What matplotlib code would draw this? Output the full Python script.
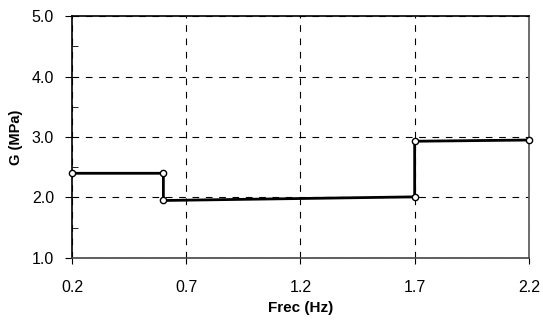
import matplotlib
matplotlib.use("Agg")
import matplotlib.pyplot as plt
from matplotlib.ticker import MultipleLocator

plt.rcParams['font.family'] = ['Liberation Sans', 'DejaVu Sans']

freq = [0.2, 0.6, 0.6, 1.7, 1.7, 2.2]
g_mpa = [2.40, 2.40, 1.95, 2.01, 2.93, 2.95]
x_ticks = [0.2, 0.7, 1.2, 1.7, 2.2]
y_ticks = [1.0, 2.0, 3.0, 4.0, 5.0]

fig = plt.figure(figsize=(5.43, 3.22), dpi=100)
ax = fig.add_axes([0.1326, 0.199, 0.8414, 0.751])

ax.plot(freq, g_mpa, color='black', lw=2.0, marker='o', markersize=4.5,
        markerfacecolor='white', markeredgecolor='black', markeredgewidth=1.0,
        zorder=5, clip_on=False)

ax.set_xlim(0.2, 2.2)
ax.set_ylim(1.0, 5.0)
ax.set_xticks(x_ticks)
ax.set_yticks(y_ticks)
ax.set_xticklabels([f"{v:.1f}" for v in x_ticks])
ax.set_yticklabels([f"{v:.1f}" for v in y_ticks])
ax.yaxis.set_minor_locator(MultipleLocator(0.5))

ax.grid(True, which='major', linestyle=(0, (6, 6)), color='black', lw=0.8)

for side in ['top', 'bottom', 'left', 'right']:
    ax.spines[side].set_linewidth(1.2)
ax.spines['right'].set_color('#555555')
ax.spines['bottom'].set_color('#444444')

ax.tick_params(axis='x', which='major', direction='out', length=4, width=0.8,
               pad=12, labelsize=11.5)
ax.tick_params(axis='y', which='major', direction='out', length=5, pad=8, labelsize=11.5)
ax.tick_params(axis='y', which='minor', direction='in', length=4)

ax.set_xlabel('Frec (Hz)', fontsize=11, fontweight='bold', labelpad=4)
ax.set_ylabel('G (MPa)', fontsize=10.5, fontweight='bold', labelpad=6)

fig.savefig('out.png', dpi=100)
